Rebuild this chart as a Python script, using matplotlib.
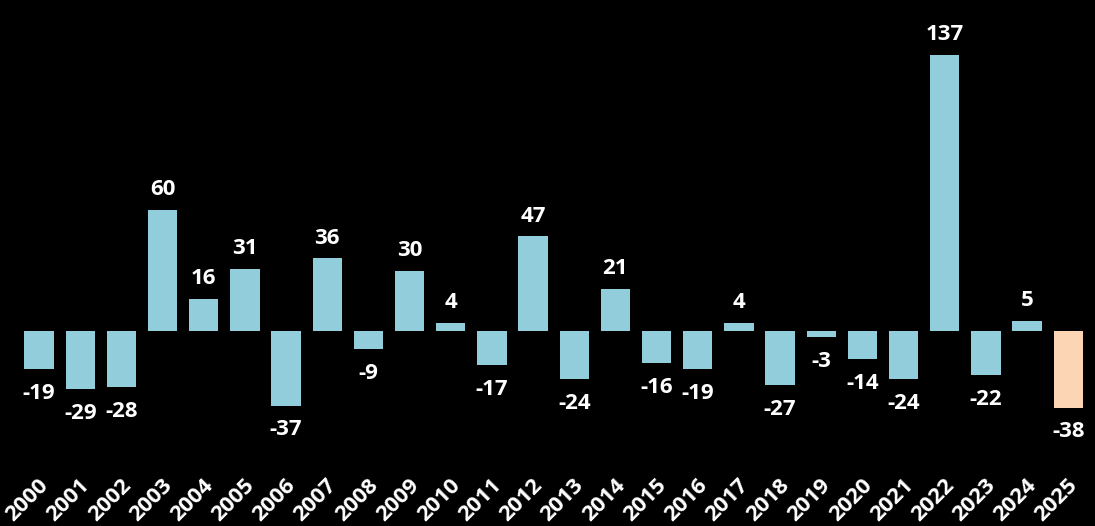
import matplotlib
matplotlib.use("Agg")
import matplotlib.pyplot as plt
import matplotlib.transforms as mtransforms

years = [str(y) for y in range(2000, 2026)]
values = [-19, -29, -28, 60, 16, 31, -37, 36, -9, 30, 4, -17, 47, -24, 21,
          -16, -19, 4, -27, -3, -14, -24, 137, -22, 5, -38]
colors = ["#92CDDC"] * 25 + ["#FCD5B5"]

plt.rcParams['font.family'] = ['Open Sans', 'DejaVu Sans']

W, H = 1095, 526
fig = plt.figure(figsize=(W / 100, H / 100), dpi=100, facecolor="black")
ypx0, ypx1 = 421.7, 28.8
ax = fig.add_axes([2 / W, (H - ypx0) / H, 1093 / W, (ypx0 - ypx1) / H])
ax.set_facecolor("black")
x = list(range(len(years)))
ax.bar(x, values, width=0.71, color=colors)
ax.set_xlim(-0.9, 25.65)
ax.set_ylim(-45, 150)
for xi, v in zip(x, values):
    off = 7 if v >= 0 else -10
    ax.annotate(str(v), (xi, v), xytext=(0, off), textcoords="offset points",
                ha="center", va="bottom" if v >= 0 else "top",
                color="white", fontsize=16, fontweight="bold")
ax.set_xticks(x)
ax.set_xticklabels(years, rotation=45, ha="right", rotation_mode="anchor",
                   color="white", fontsize=16, fontweight="bold")
ax.tick_params(axis="x", length=0, pad=38)
shift = mtransforms.ScaledTranslation(-1 / 100, 0, fig.dpi_scale_trans)
for lbl in ax.get_xticklabels():
    lbl.set_transform(lbl.get_transform() + shift)
ax.set_yticks([])
for s in ax.spines.values():
    s.set_visible(False)
fig.savefig("out.png", dpi=100, facecolor="black")
